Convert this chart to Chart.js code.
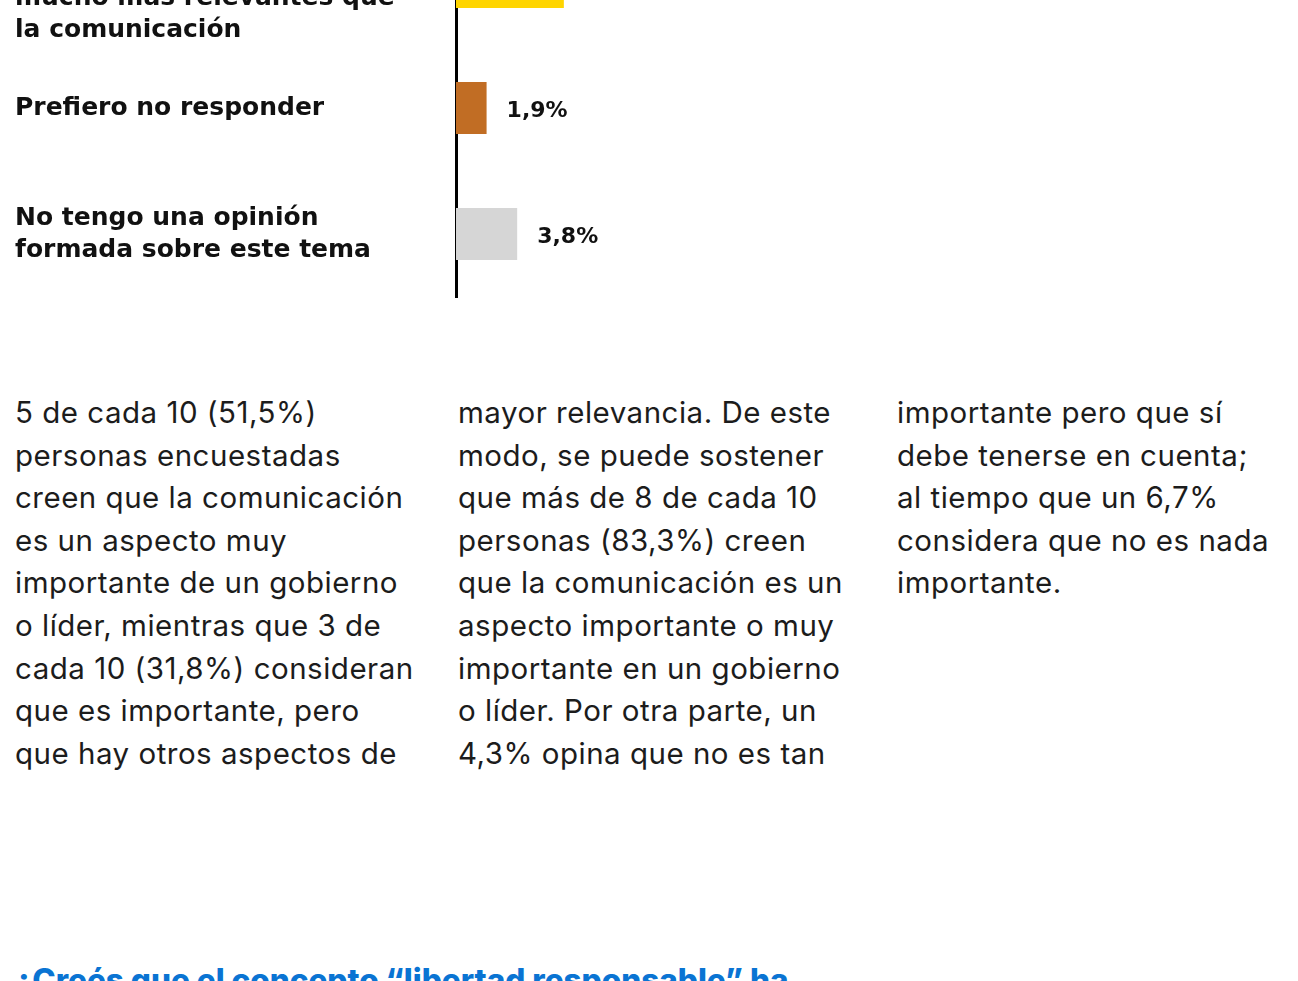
<!DOCTYPE html>
<html>
<head>
    <title>Comunicación</title>
    <meta charset="UTF-8">
    <script src="https://cdn.jsdelivr.net/npm/chart.js@4.4.1/dist/chart.umd.min.js"></script>
    <style>
        body { margin: 0; width: 1298px; height: 981px; overflow: hidden; background: #fff; position: relative; }
        #wrap { position: absolute; left: 0; top: -470px; width: 1298px; height: 780px; }
        .col { position: absolute; top: 391px; font-family: Inter, sans-serif; font-size: 29.5px; letter-spacing: 0.5px; line-height: 42.6px; color: #1c1c1c; white-space: nowrap; }
        h2 { position: absolute; left: 14px; top: 960px; margin: 0; font-family: Inter, sans-serif; font-weight: 800; font-size: 31.5px; color: #0a74d3; white-space: nowrap; }
    </style>
</head>
<body>
    <div id="wrap"><canvas id="myChart" width="1298" height="780"></canvas></div>

    <div class="col" style="left:15px">5 de cada 10 (51,5%)<br>personas encuestadas<br>creen que la comunicación<br>es un aspecto muy<br>importante de un gobierno<br>o líder, mientras que 3 de<br>cada 10 (31,8%) consideran<br>que es importante, pero<br>que hay otros aspectos de</div>
    <div class="col" style="left:458px">mayor relevancia. De este<br>modo, se puede sostener<br>que más de 8 de cada 10<br>personas (83,3%) creen<br>que la comunicación es un<br>aspecto importante o muy<br>importante en un gobierno<br>o líder. Por otra parte, un<br>4,3% opina que no es tan</div>
    <div class="col" style="left:897px">importante pero que sí<br>debe tenerse en cuenta;<br>al tiempo que un 6,7%<br>considera que no es nada<br>importante.</div>

    <h2>¿Creés que el concepto “libertad responsable” ha</h2>

    <script>
        var labels = [
            ['Es un aspecto muy importante'],
            ['Es importante, pero hay otros', 'aspectos de mayor relevancia'],
            ['No es tan importante pero sí', 'debe tenerse en cuenta'],
            ['No es nada', 'importante, hay aspectos', 'mucho más relevantes que', 'la comunicación'],
            ['Prefiero no responder'],
            ['No tengo una opinión', 'formada sobre este tema']
        ];
        var values = [51.5, 31.8, 4.3, 6.7, 1.9, 3.8];
        var valueLabels = ['51,5%', '31,8%', '4,3%', '6,7%', '1,9%', '3,8%'];
        var colors = ['#0a74d3', '#6fb3ee', '#b9d9f5', '#ffd500', '#c16d24', '#d6d6d6'];

        // "1,9%" etc. to the right of each bar
        var barValues = {
            id: 'barValues',
            afterDatasetsDraw: function (chart) {
                var ctx = chart.ctx;
                ctx.save();
                ctx.font = 'bold 22px "DejaVu Sans", sans-serif';
                ctx.fillStyle = '#111';
                ctx.textBaseline = 'middle';
                chart.getDatasetMeta(0).data.forEach(function (bar, i) {
                    ctx.fillText(valueLabels[i], bar.x + 20, bar.y + 3);
                });
                ctx.restore();
            }
        };

        var ctx = document.getElementById('myChart');
        var myChart = new Chart(ctx, {
            type: 'bar',
            data: {
                labels: labels,
                datasets: [{
                    data: values,
                    backgroundColor: colors,
                    borderWidth: 0,
                    categoryPercentage: 0.82,
                    barPercentage: 0.503
                }]
            },
            options: {
                indexAxis: 'y',
                responsive: false,
                animation: false,
                layout: { padding: { left: 15, right: 5, top: 11, bottom: 13 } },
                plugins: { legend: { display: false }, tooltip: { enabled: false } },
                scales: {
                    x: {
                        min: 0, max: 52,
                        display: false
                    },
                    y: {
                        grid: { display: false },
                        border: { display: true, color: '#000', width: 3 },
                        afterFit: function (scale) {
                            scale.width = 441;
                            scale.paddingTop = 0;
                            scale.paddingBottom = 0;
                        },
                        ticks: {
                            autoSkip: false,
                            crossAlign: 'far',
                            color: '#111',
                            font: { family: '"DejaVu Sans", sans-serif', size: 25, weight: 'bold', lineHeight: 1.28 }
                        }
                    }
                }
            },
            plugins: [barValues]
        });
    </script>
</body>
</html>
